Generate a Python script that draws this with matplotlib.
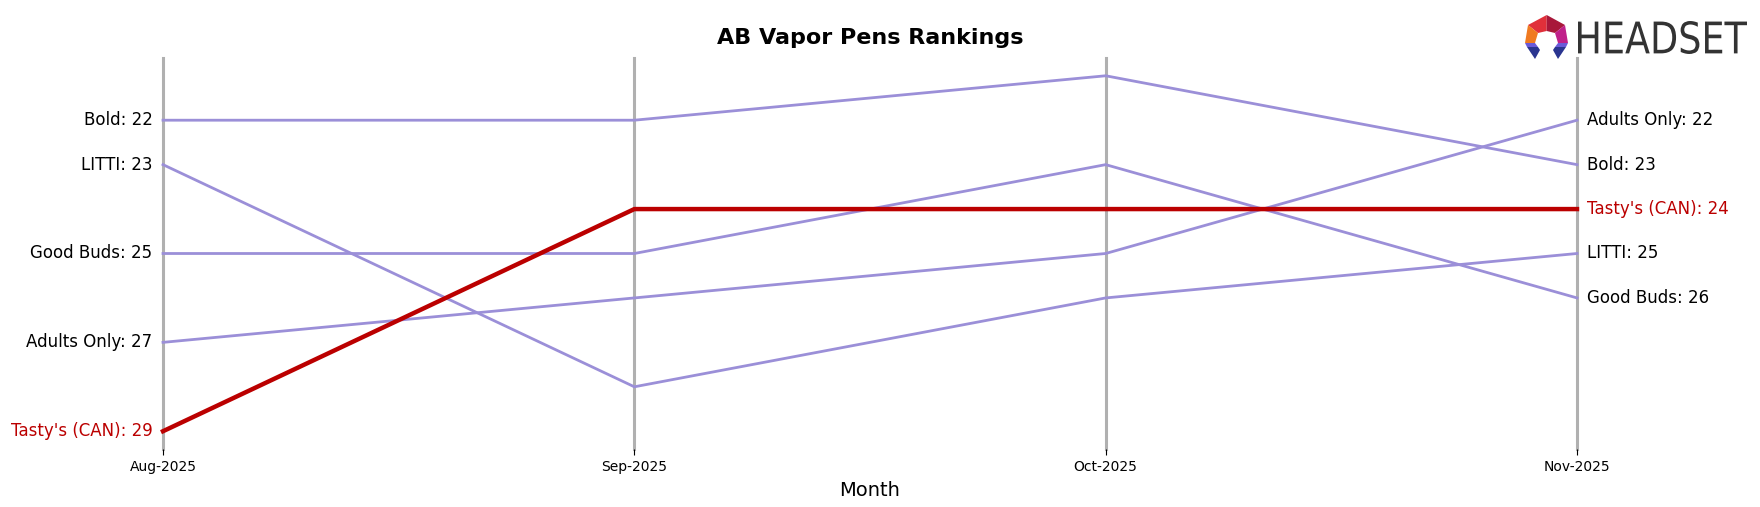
import matplotlib
matplotlib.use("Agg")
import matplotlib.pyplot as plt
from matplotlib.patches import Polygon, PathPatch
from matplotlib.textpath import TextPath
from matplotlib.font_manager import FontProperties
from matplotlib.transforms import Affine2D

months = ["Aug-2025", "Sep-2025", "Oct-2025", "Nov-2025"]
brands = ["Bold", "LITTI", "Good Buds", "Adults Only", "Tasty's (CAN)"]
rank_bold = [22, 22, 21, 23]
rank_litti = [23, 28, 26, 25]
rank_goodbuds = [25, 25, 23, 26]
rank_adults = [27, 26, 25, 22]
rank_tastys = [29, 24, 24, 24]
ranks = [rank_bold, rank_litti, rank_goodbuds, rank_adults, rank_tastys]
highlight = "Tasty's (CAN)"

W, H = 1760, 507
fig = plt.figure(figsize=(17.6, 5.07), dpi=100)
ax = fig.add_axes([163 / W, 1 - 449 / H, (1577 - 163) / W, (449 - 58) / H])

x = list(range(len(months)))
for xi in x:
    ax.axvline(xi, color="#b0b0b0", lw=2.2, zorder=1, clip_on=False)

purple = "#9b8fd8"
red = "#bb0000"
for name, r in zip(brands, ranks):
    if name == highlight:
        ax.plot(x, r, color=red, lw=3.2, zorder=4, clip_on=False)
    else:
        ax.plot(x, r, color=purple, lw=2.0, zorder=3, clip_on=False)

ax.set_xlim(0, 3)
ax.set_ylim(29.4, 20.6)
ax.set_yticks([])
ax.set_xticks(x)
ax.set_xticklabels(months, fontsize=10)
ax.tick_params(axis="x", length=4, width=0.8, pad=4)
for s in ax.spines.values():
    s.set_visible(False)
ax.set_xlabel("Month", fontsize=14, labelpad=5)

for name, r in zip(brands, ranks):
    col = red if name == highlight else "black"
    ax.annotate(f"{name}: {r[0]}", xy=(0, r[0]), xytext=(-7.5, 0),
                textcoords="offset points", ha="right", va="center",
                fontsize=12, color=col)
    ax.annotate(f"{name}: {r[-1]}", xy=(3, r[-1]), xytext=(7, 0),
                textcoords="offset points", ha="left", va="center",
                fontsize=12, color=col)

fig.text(0.5 * (163 + 1577) / W, 1 - 38 / H, "AB Vapor Pens Rankings",
         ha="center", va="center", fontsize=16, fontweight="bold")

# Logo
def P(px, py):
    return (px / W, 1 - py / H)

def poly(pts, color):
    fig.patches.append(Polygon([P(*p) for p in pts], closed=True, facecolor=color,
                               edgecolor="none", transform=fig.transFigure, figure=fig))

top = (1546.7, 15); ul = (1528, 25); lm = (1525, 43); blt = (1535, 59)
bli = (1540, 50); il = (1535, 43); itl = (1538, 33); it = (1546.7, 31)
itr = (1555, 33); ir = (1558, 43); bri = (1553, 50); brt = (1558, 59)
rm = (1568, 43); ur = (1565, 25)
poly([ul, top, it, itl], "#e0303a")
poly([top, ur, itr, it], "#a8183a")
poly([ul, itl, il, lm], "#f07a20")
poly([ur, rm, ir, itr], "#c0208a")
poly([lm, il, (1538, 47), (1527, 47)], "#6a5ad8")
poly([(1527, 47), (1538, 47), bli, blt], "#2a3590")
poly([rm, (1566, 47), (1555, 47), ir], "#6a5ad8")
poly([(1555, 47), (1566, 47), brt, bri], "#2a3590")

fp = FontProperties(family="DejaVu Sans")
tp = TextPath((0, 0), "HEADSET", size=10, prop=fp)
bb = tp.get_extents()
x0, x1, y0, y1 = 1578, 1747, 21, 54
sx = (x1 - x0) / bb.width
sy = (y1 - y0) / bb.height
tr = Affine2D().translate(-bb.x0, -bb.y0).scale(sx, sy).translate(x0, H - y1) + \
     Affine2D().scale(1 / W, 1 / H) + fig.transFigure
fig.patches.append(PathPatch(tp, facecolor="#333333", edgecolor="none",
                             transform=tr, figure=fig))

fig.savefig("out.png", dpi=100)
